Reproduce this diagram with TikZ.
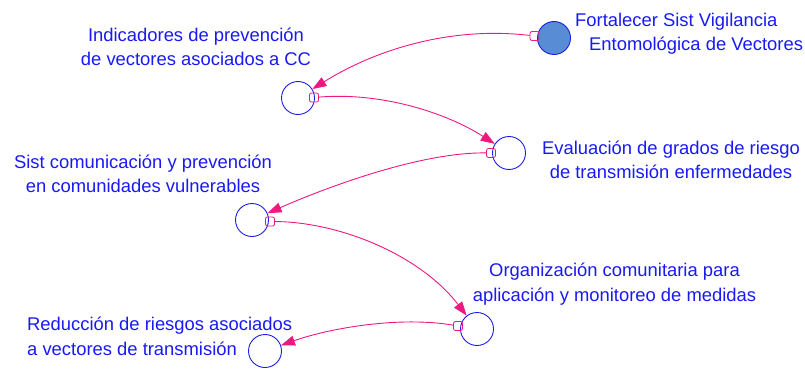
\documentclass[tikz,border=0pt]{standalone}
\usepackage{fontspec}
\setmainfont{Liberation Sans}
\usetikzlibrary{arrows.meta}
\definecolor{lnk}{RGB}{238,24,128}
\definecolor{txt}{RGB}{25,25,245}
\definecolor{cir}{RGB}{30,30,230}
\definecolor{fil}{RGB}{88,140,212}
\begin{document}
\begin{tikzpicture}[x=1pt,y=-1pt,
  var/.style={circle,draw=cir,line width=0.9pt,minimum size=33pt,inner sep=0pt,fill=white},
  lbl/.style={text=txt,font=\fontsize{18.4}{24.5}\selectfont,inner sep=0pt},
  mk/.style={rectangle,draw=lnk,line width=0.8pt,minimum size=9pt,inner sep=0pt,rounded corners=2pt},
  lk/.style={draw=lnk,line width=0.9pt,-{Triangle[length=14pt,width=10pt]}}]
\useasboundingbox (0,0) rectangle (805,369);
% variables
\node[var,fill=fil] (c1) at (554,38) {};
\node[var] (c2) at (298,98) {};
\node[var] (c3) at (509,153) {};
\node[var] (c4) at (252,220) {};
\node[var] (c5) at (477,329) {};
\node[var] (c6) at (265,351) {};
% markers
\node[mk] (m1) at (534.5,36) {};
\node[mk] (m2) at (314,97.5) {};
\node[mk] (m3) at (491,153) {};
\node[mk] (m4) at (270,221.5) {};
\node[mk] (m5) at (458,326) {};
% links
\draw[lk] (m1) .. controls (450,26) and (375,50) .. (c2);
\draw[lk] (m2) .. controls (380,92) and (445,112) .. (c3);
\draw[lk] (m3) .. controls (420,152) and (325,188) .. (c4);
\draw[lk] (m4) .. controls (340,222) and (420,255) .. (c5);
\draw[lk] (m5) .. controls (400,316) and (330,328) .. (c6);
% labels (base anchor = baseline of the last line)
\node[lbl,align=left,anchor=base west] (t1) at (575,50.5) {Fortalecer Sist Vigilancia\\\hspace*{14pt}Entomológica de Vectores};
\node[lbl,align=center,anchor=base] (t2) at (196,65.5) {Indicadores de prevención\\de vectores asociados a CC};
\node[lbl,align=center,anchor=base] (t3) at (671,178.8) {Evaluación de grados de riesgo\\de transmisión enfermedades};
\node[lbl,align=center,anchor=base] (t4) at (143,192.5) {Sist comunicación y prevención\\en comunidades vulnerables};
\node[lbl,align=center,anchor=base] (t5) at (614.5,301) {Organización comunitaria para\\aplicación y monitoreo de medidas};
\node[lbl,align=left,anchor=base west] (t6) at (27,355.2) {Reducción de riesgos asociados\\a vectores de transmisión};
\end{tikzpicture}
\end{document}
